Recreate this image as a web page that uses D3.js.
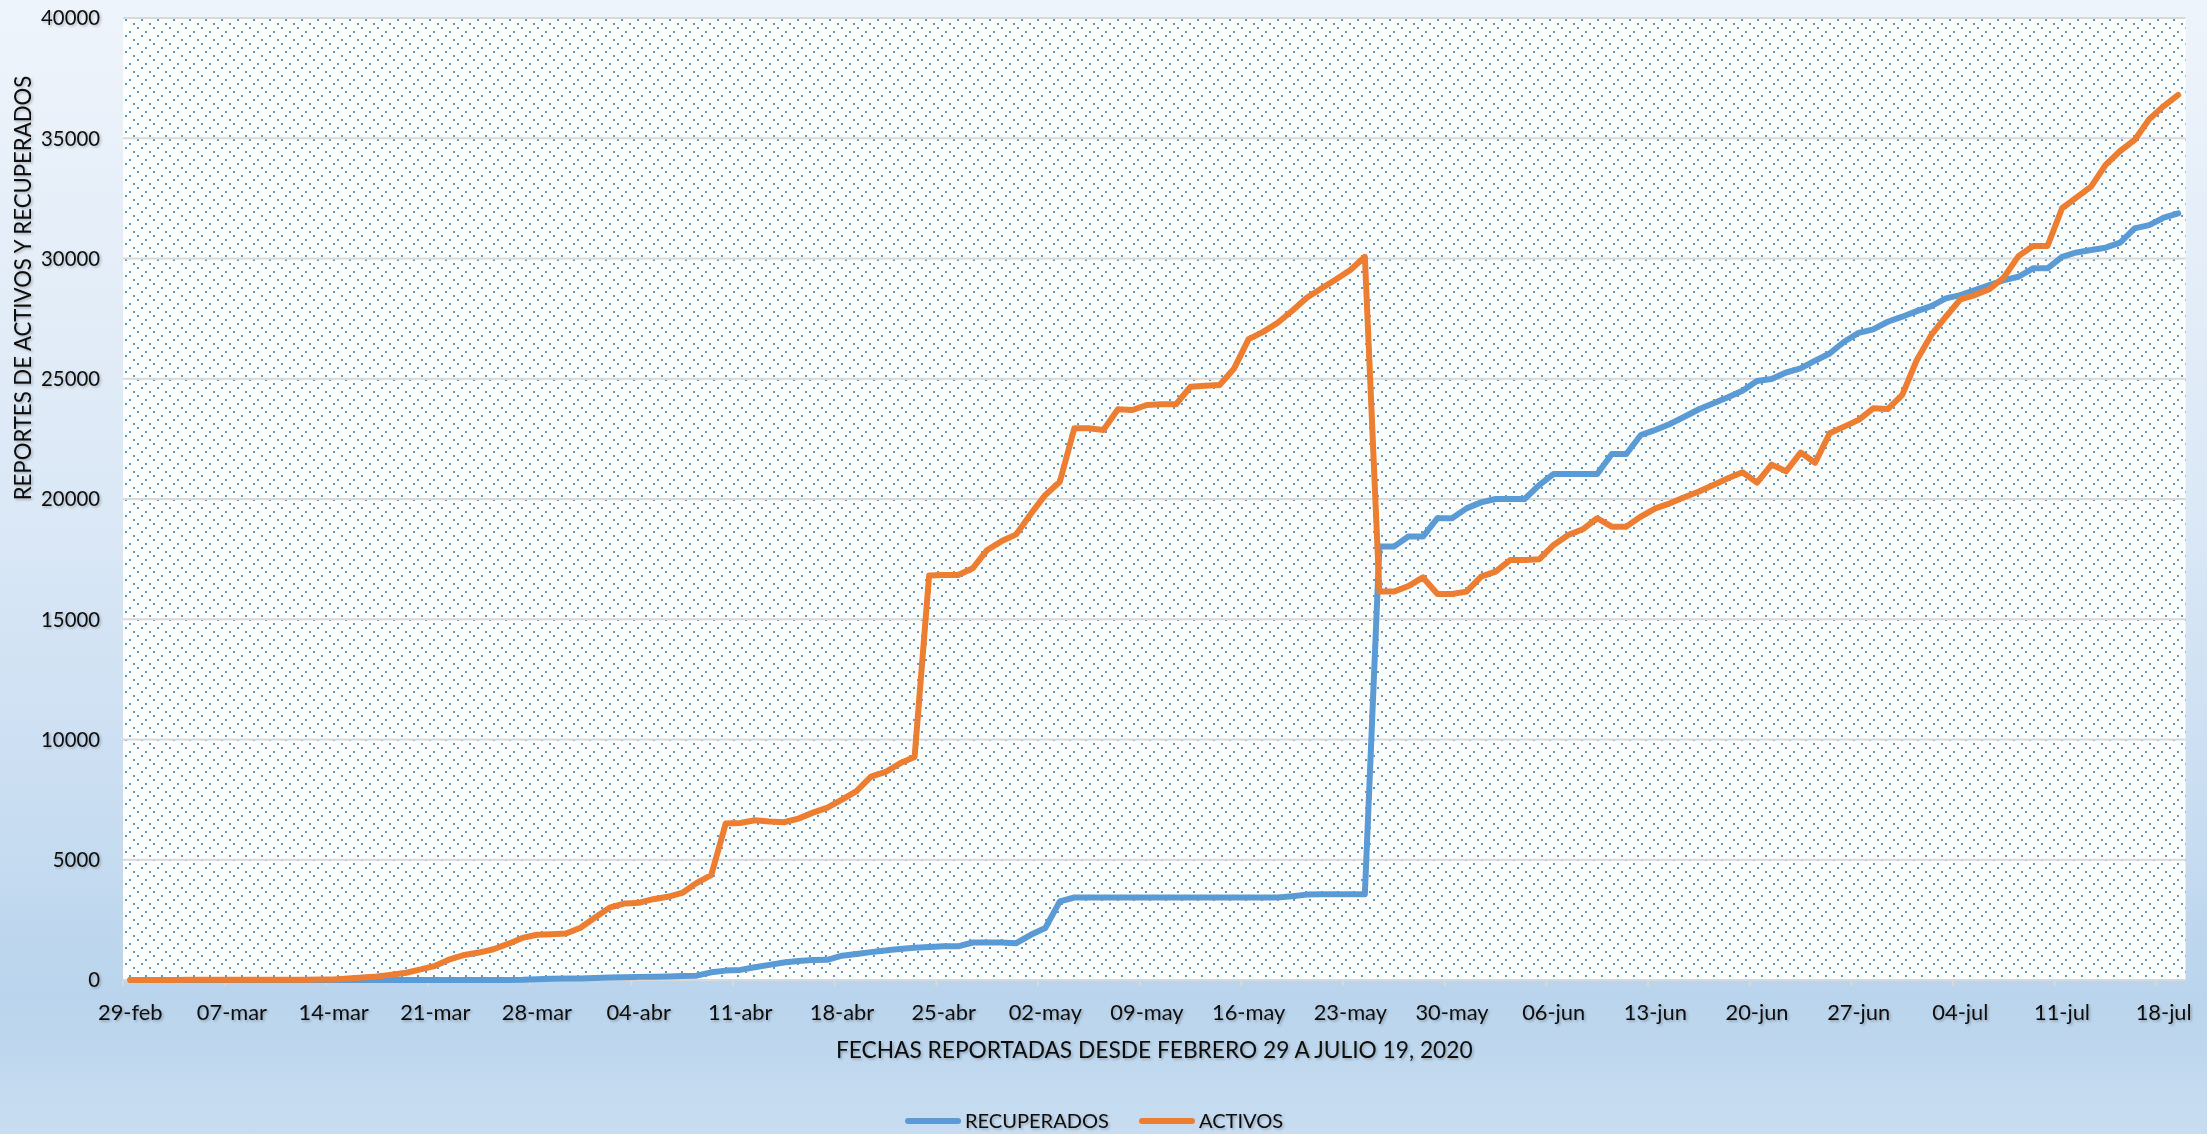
<!DOCTYPE html>
<html>
<head>
<meta charset="utf-8">
<script src="https://cdnjs.cloudflare.com/ajax/libs/d3/7.8.5/d3.min.js"></script>
<style>
  html, body { margin: 0; padding: 0; background: #fff; }
  svg { display: block; }
  text { font-family: Lato, 'Liberation Sans', sans-serif; fill: #0d0d0d; }
</style>
</head>
<body>
<div class="content"></div>
<script>
// DATA (one value per day, 29-feb .. 19-jul 2020)
var startDay = new Date(2020, 1, 29),
    endDay = new Date(2020, 6, 20);

var activos = [].concat(
  [0],                                                               // feb 29
  [5, 5, 5, 10, 10, 10, 10, 15, 15, 15, 15, 15, 20, 25, 60, 100,     // mar
   150, 220, 300, 440, 590, 860, 1040, 1140, 1280, 1500, 1750, 1880,
   1900, 1930, 2170],
  [2600, 3010, 3180, 3210, 3360, 3460, 3620, 4040, 4360, 6510, 6530,  // abr
   6640, 6590, 6560, 6710, 6960, 7170, 7500, 7850, 8460, 8650, 9010,
   9270, 16820, 16840, 16840, 17120, 17880, 18250, 18530],
  [19380, 20170, 20720, 22940, 22940, 22870, 23730, 23700, 23910,     // may
   23940, 23940, 24670, 24710, 24740, 25430, 26650, 26950, 27330,
   27830, 28370, 28750, 29130, 29520, 30070, 16150, 16150, 16380,
   16740, 16050, 16050, 16150],
  [16770, 16980, 17460, 17460, 17490, 18090, 18500, 18740, 19200,     // jun
   18850, 18850, 19270, 19610, 19820, 20070, 20310, 20580, 20860,
   21110, 20680, 21430, 21150, 21930, 21510, 22730, 23010, 23290,
   23770, 23740, 24330],
  [25780, 26820, 27580, 28300, 28480, 28720, 29220, 30100, 30520,     // jul
   30520, 32090, 32540, 32990, 33890, 34470, 34930, 35790, 36340, 36800]
);

var recuperados = [].concat(
  [0],
  [0, 0, 0, 0, 0, 0, 0, 0, 0, 0, 0, 0, 0, 0, 0, 0, 0, 0, 0, 0,
   3, 3, 3, 3, 5, 5, 10, 30, 54, 60, 65],
  [80, 100, 110, 130, 140, 150, 170, 180, 320, 390, 420, 530, 630, 730,
   790, 830, 840, 1010, 1080, 1160, 1230, 1290, 1340, 1370, 1400, 1400,
   1560, 1560, 1560, 1530],
  [1880, 2160, 3270, 3430, 3430, 3430, 3430, 3430, 3430, 3430, 3430,
   3430, 3430, 3430, 3430, 3430, 3430, 3430, 3480, 3550, 3570, 3570,
   3570, 3570, 18020, 18020, 18440, 18440, 19200, 19200, 19610],
  [19860, 20000, 20000, 20000, 20580, 21040, 21040, 21040, 21040,
   21870, 21870, 22660, 22870, 23120, 23420, 23730, 23980, 24230,
   24500, 24910, 24990, 25260, 25430, 25750, 26050, 26540, 26910,
   27050, 27370, 27580],
  [27810, 28020, 28340, 28480, 28690, 28890, 29100, 29240, 29590,
   29590, 30070, 30250, 30350, 30450, 30660, 31250, 31390, 31700, 31880]
);

var tickLabels = ['29-feb', '07-mar', '14-mar', '21-mar', '28-mar', '04-abr',
  '11-abr', '18-abr', '25-abr', '02-may', '09-may', '16-may', '23-may',
  '30-may', '06-jun', '13-jun', '20-jun', '27-jun', '04-jul', '11-jul', '18-jul'];

var yTicks = [0, 5000, 10000, 15000, 20000, 25000, 30000, 35000, 40000];

var seriesNames = ['RECUPERADOS', 'ACTIVOS'],
    seriesColors = ['#5b9bd5', '#ed7d31'];


// VARIABLES
var w = 2207,
    h = 1134,
    plot = {left: 123, right: 2185.5, top: 18, bottom: 980};

var days = d3.timeDay.range(startDay, endDay);
var data = days.map(function(d, i) {
  return {i: i, date: d, rec: recuperados[i], act: activos[i]};
});


// PREPARE SVG
var svg = d3.select('.content').append('svg')
    .attr('width', w)
    .attr('height', h);

var defs = svg.append('defs');

var bg = defs.append('linearGradient')
    .attr('id', 'bg')
    .attr('x1', 0).attr('y1', 0).attr('x2', 0).attr('y2', 1);
[[0, '#eef4fb'], [0.45, '#dbe8f6'], [0.7, '#cadef2'], [0.88, '#b9d4ec'], [1, '#c8ddf1']]
  .forEach(function(s) {
    bg.append('stop').attr('offset', s[0]).attr('stop-color', s[1]);
  });

// dotted fill of the plot area (2x2 dots, one per row, rows 4px apart)
var pat = defs.append('pattern')
    .attr('id', 'dots')
    .attr('patternUnits', 'userSpaceOnUse')
    .attr('x', plot.left).attr('y', plot.top)
    .attr('width', 16).attr('height', 16);
pat.append('rect').attr('width', 16).attr('height', 16).attr('fill', '#fff');
[[2, 1], [10, 5], [14, 9], [6, 13]].forEach(function(p) {
  pat.append('rect').attr('x', p[0]).attr('y', p[1])
    .attr('width', 2).attr('height', 2).attr('fill', '#5b9bd5');
});

var shadow = defs.append('filter').attr('id', 'tshadow')
    .attr('x', '-10%').attr('y', '-30%').attr('width', '120%').attr('height', '160%');
shadow.append('feDropShadow')
    .attr('dx', 1.5).attr('dy', 1.5).attr('stdDeviation', 1.2)
    .attr('flood-color', '#000').attr('flood-opacity', 0.25);

svg.append('rect')
    .attr('width', w).attr('height', h)
    .attr('fill', 'url(#bg)');

svg.append('rect')
    .attr('x', plot.left).attr('y', plot.top)
    .attr('width', plot.right - plot.left)
    .attr('height', plot.bottom - plot.top)
    .attr('fill', 'url(#dots)');


// SCALES
var x = d3.scalePoint()
    .domain(data.map(function(d) { return d.i; }))
    .range([plot.left, plot.right])
    .padding(0.5);

var step = x.step();

var y = d3.scaleLinear()
    .domain([0, 40000])
    .range([plot.bottom, plot.top]);


// GRID AND AXES
svg.append('g').selectAll('line')
    .data(yTicks)
    .enter().append('line')
    .attr('x1', plot.left).attr('x2', plot.right)
    .attr('y1', function(d) { return y(d); })
    .attr('y2', function(d) { return y(d); })
    .attr('stroke', '#d9d9d9')
    .attr('stroke-width', 2);

var yLabels = svg.append('g').attr('filter', 'url(#tshadow)').selectAll('text')
    .data(yTicks)
    .enter().append('text')
    .attr('x', 100)
    .attr('y', function(d) { return y(d); })
    .attr('dy', '0.36em')
    .attr('text-anchor', 'end')
    .attr('font-size', 22)
    .text(function(d) { return d; });

var tickIdx = tickLabels.map(function(t, k) { return k * 7; });

svg.append('g').selectAll('line')
    .data(tickIdx)
    .enter().append('line')
    .attr('x1', function(i) { return x(i) - step / 2; })
    .attr('x2', function(i) { return x(i) - step / 2; })
    .attr('y1', plot.bottom).attr('y2', plot.bottom + 6)
    .attr('stroke', '#d9d9d9')
    .attr('stroke-width', 2);

var xLabels = svg.append('g').attr('filter', 'url(#tshadow)').selectAll('text')
    .data(tickIdx)
    .enter().append('text')
    .attr('x', function(i) { return x(i); })
    .attr('y', 1012)
    .attr('dy', '0.36em')
    .attr('text-anchor', 'middle')
    .attr('font-size', 22)
    .text(function(i, k) { return tickLabels[k]; });

// match the measured label widths of the reference
function fitSize(sel, target) {
  var fs = +sel.attr('font-size');
  var tw = sel.node().getComputedTextLength();
  return fs * target / tw;
}
yLabels.attr('font-size', fitSize(yLabels.filter(function(d) { return d === 40000; }), 59));
xLabels.attr('font-size', fitSize(xLabels.filter(function(i) { return i === 0; }), 64.5));

var titles = svg.append('g').attr('filter', 'url(#tshadow)');

var xTitle = titles.append('text')
    .attr('x', (plot.left + plot.right) / 2)
    .attr('y', 1050)
    .attr('dy', '0.36em')
    .attr('text-anchor', 'middle')
    .attr('font-size', 22)
    .text('FECHAS REPORTADAS DESDE FEBRERO 29 A JULIO 19, 2020');
xTitle.attr('font-size', fitSize(xTitle, 637));

var yTitle = titles.append('text')
    .attr('transform', 'translate(23,288) rotate(-90)')
    .attr('dy', '0.36em')
    .attr('text-anchor', 'middle')
    .attr('font-size', 22)
    .text('REPORTES DE ACTIVOS Y RECUPERADOS');
yTitle.attr('font-size', fitSize(yTitle, 425));


// LINES
var keys = ['rec', 'act'];
keys.forEach(function(k, n) {
  var line = d3.line()
      .x(function(d) { return x(d.i); })
      .y(function(d) { return y(d[k]); });
  svg.append('path')
      .datum(data)
      .attr('fill', 'none')
      .attr('stroke', seriesColors[n])
      .attr('stroke-width', 6)
      .attr('stroke-linejoin', 'round')
      .attr('stroke-linecap', 'round')
      .attr('d', line);
});


// LEGEND
var legendX = [908, 1142],
    legendY = 1121;

var legend = svg.append('g').selectAll('g')
    .data(seriesNames)
    .enter().append('g')
    .attr('transform', function(d, n) { return 'translate(' + legendX[n] + ',' + legendY + ')'; });

legend.append('line')
    .attr('x1', 0).attr('x2', 50)
    .attr('stroke', function(d, n) { return seriesColors[n]; })
    .attr('stroke-width', 6)
    .attr('stroke-linecap', 'round');

var legendText = legend.append('text')
    .attr('x', 57)
    .attr('dy', '0.36em')
    .attr('font-size', 22)
    .attr('filter', 'url(#tshadow)')
    .text(function(d) { return d; });
legendText.attr('font-size', fitSize(legendText.filter(function(d, n) { return n === 0; }), 144));
</script>
</body>
</html>
